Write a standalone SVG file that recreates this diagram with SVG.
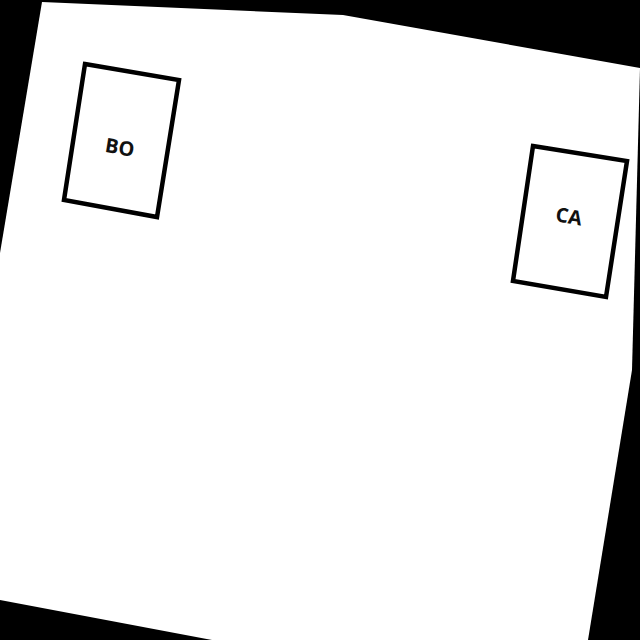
<svg xmlns="http://www.w3.org/2000/svg" width="640" height="640" viewBox="0 0 640 640">
  <style>
    .box { fill: #ffffff; stroke: #000000; stroke-width: 4.5; stroke-linejoin: miter; }
    .label { font-family: "Open Sans", "Noto Sans", "DejaVu Sans", sans-serif; font-weight: 700; font-size: 20px; fill: #111111; text-anchor: middle; dominant-baseline: central; }
  </style>
  <rect x="0" y="0" width="640" height="640" fill="#000000"/>
  <polygon id="page" points="42,2 343,15 640,68 632,370 588,640 212,640 0,600 0,253" fill="#ffffff"/>
  <g id="connectors"></g>
  <g id="BO">
    <polygon class="box" points="85,64 179,80 157,217 64,200"/>
    <text class="label" transform="matrix(0.985,0.176,-0.158,0.987,120,147)" x="0" y="0">BO</text>
  </g>
  <g id="CA">
    <polygon class="box" points="533,146 627,161 606,297 513,281"/>
    <text class="label" transform="matrix(0.985,0.176,-0.158,0.987,569,216)" x="0" y="0">CA</text>
  </g>
</svg>
